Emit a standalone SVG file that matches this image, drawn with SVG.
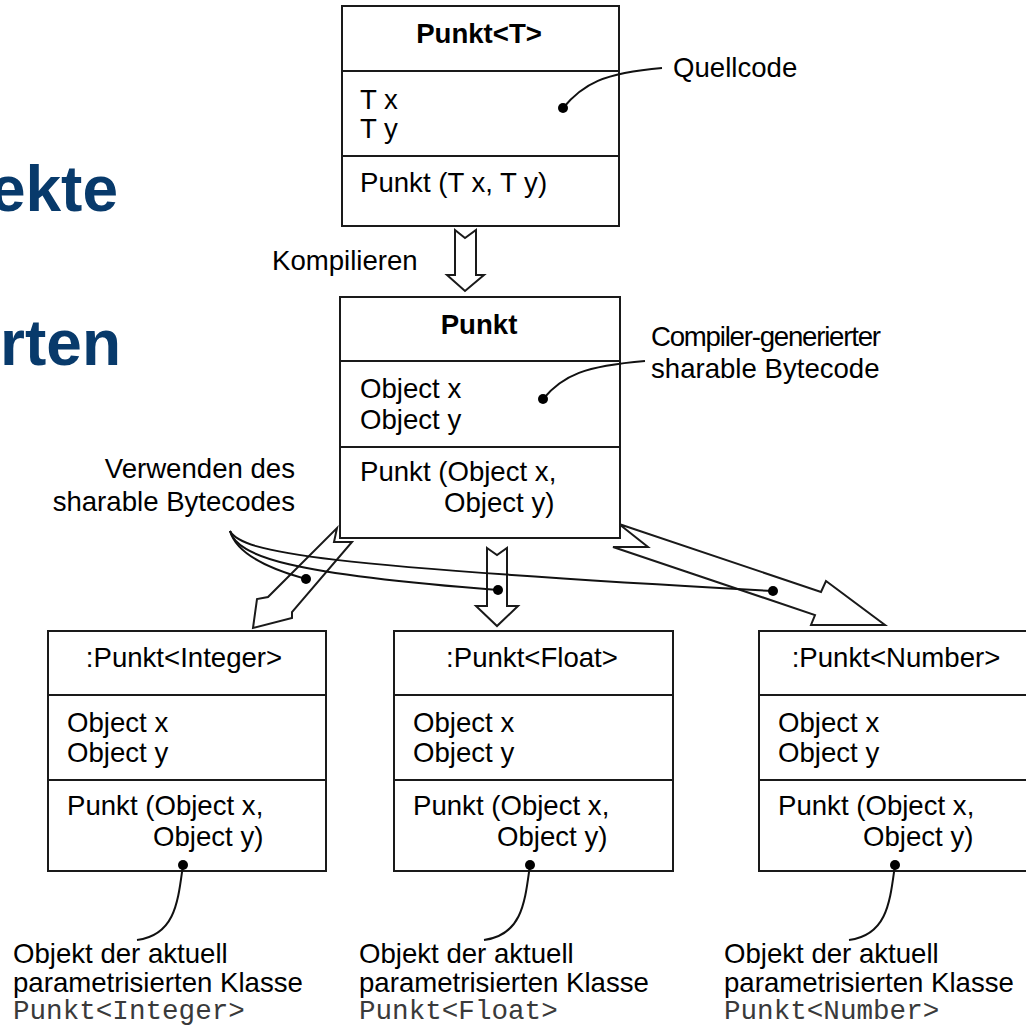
<svg xmlns="http://www.w3.org/2000/svg" width="1026" height="1026" viewBox="0 0 1026 1026">
  <style>
    .frame { fill: #fff; stroke: #1a1a1a; stroke-width: 2; }
    .sep { stroke: #1a1a1a; stroke-width: 2; }
    .t { font-family: "Liberation Sans", Arial, Helvetica, sans-serif; font-size: 27.6px; fill: #000; }
    .b { font-weight: bold; }
    .mid { text-anchor: middle; }
    .end { text-anchor: end; }
    .mono { font-family: "Liberation Mono", "Courier New", monospace; font-size: 27.6px; fill: #3a3a3a; }
    .head { font-family: "Liberation Sans", Arial, Helvetica, sans-serif; font-size: 64px; font-weight: bold; fill: #083a6b; text-anchor: end; }
    .arrow { fill: #fff; stroke: #1a1a1a; stroke-width: 2; stroke-linejoin: miter; }
    .leader { fill: none; stroke: #111; stroke-width: 2; }
    .dot { fill: #000; }
  </style>

  <rect width="1026" height="1026" fill="#fff"/>

  <!-- slide heading fragments at the left edge -->
  <g id="heading">
    <text class="head" x="118" y="211">ekte</text>
    <text class="head" x="121" y="365">rten</text>
  </g>

  <!-- hollow block arrows -->
  <g id="connectors">
    <polygon id="compile-arrow" class="arrow" points="455,230 465,238 476,230 476,275 484,275 465,291 447,275 455,275"/>
    <polygon id="to-integer" class="arrow" points="337,528 334,542 352,542 292,612 292,618 253,628 257,599 268,597"/>
    <polygon id="to-float" class="arrow" points="487,548 497,555 507,548 507,606 518,606 497,626 476,606 487,606"/>
    <polygon id="to-number" class="arrow" points="619,524 648,547 613,547 815,615 811,625 885,625 826,581 821,592"/>
    <text class="t" x="272" y="270">Kompilieren</text>
  </g>

  <!-- source class -->
  <g id="punkt-t">
    <rect class="frame" x="342" y="6" width="277" height="220"/>
    <line class="sep" x1="342" y1="71" x2="619" y2="71"/>
    <line class="sep" x1="342" y1="156" x2="619" y2="156"/>
    <text class="t b mid" x="479" y="43">Punkt&lt;T&gt;</text>
    <text class="t" x="360" y="109">T x</text>
    <text class="t" x="360" y="138">T y</text>
    <text class="t" x="360" y="192">Punkt (T x, T y)</text>
  </g>

  <!-- compiled raw class -->
  <g id="punkt">
    <rect class="frame" x="340" y="297" width="280" height="241"/>
    <line class="sep" x1="340" y1="361" x2="620" y2="361"/>
    <line class="sep" x1="340" y1="447" x2="620" y2="447"/>
    <text class="t b mid" x="479" y="334">Punkt</text>
    <text class="t" x="360" y="398">Object x</text>
    <text class="t" x="360" y="429">Object y</text>
    <text class="t" x="360" y="481">Punkt (Object x,</text>
    <text class="t" x="444" y="512">Object y)</text>
  </g>

  <!-- parameterised instances -->
  <g id="punkt-integer">
    <rect class="frame" x="48" y="631" width="278" height="240"/>
    <line class="sep" x1="48" y1="695" x2="326" y2="695"/>
    <line class="sep" x1="48" y1="780" x2="326" y2="780"/>
    <text class="t mid" x="184" y="667">:Punkt&lt;Integer&gt;</text>
    <text class="t" x="67" y="732">Object x</text>
    <text class="t" x="67" y="762">Object y</text>
    <text class="t" x="67" y="815">Punkt (Object x,</text>
    <text class="t" x="153" y="846">Object y)</text>
  </g>

  <g id="punkt-float">
    <rect class="frame" x="394" y="631" width="279" height="240"/>
    <line class="sep" x1="394" y1="695" x2="673" y2="695"/>
    <line class="sep" x1="394" y1="780" x2="673" y2="780"/>
    <text class="t mid" x="532" y="667">:Punkt&lt;Float&gt;</text>
    <text class="t" x="413" y="732">Object x</text>
    <text class="t" x="413" y="762">Object y</text>
    <text class="t" x="413" y="815">Punkt (Object x,</text>
    <text class="t" x="497" y="846">Object y)</text>
  </g>

  <g id="punkt-number">
    <rect class="frame" x="759" y="631" width="280" height="240"/>
    <line class="sep" x1="759" y1="695" x2="1039" y2="695"/>
    <line class="sep" x1="759" y1="780" x2="1039" y2="780"/>
    <text class="t mid" x="896" y="667">:Punkt&lt;Number&gt;</text>
    <text class="t" x="778" y="732">Object x</text>
    <text class="t" x="778" y="762">Object y</text>
    <text class="t" x="778" y="815">Punkt (Object x,</text>
    <text class="t" x="863" y="846">Object y)</text>
  </g>

  <!-- annotations with leader lines -->
  <g id="note-source">
    <path class="leader" d="M563,108 C583,84 603,73 662,68"/>
    <circle class="dot" cx="563" cy="108" r="5"/>
    <text class="t" x="673" y="77">Quellcode</text>
  </g>

  <g id="note-bytecode">
    <path class="leader" d="M543,399 C563,375 585,366 645,361"/>
    <circle class="dot" cx="543" cy="399" r="5"/>
    <text class="t" x="651" y="346" textLength="230" lengthAdjust="spacing">Compiler-generierter</text>
    <text class="t" x="651" y="378">sharable Bytecode</text>
  </g>

  <g id="note-shared">
    <text class="t end" x="295" y="478">Verwenden des</text>
    <text class="t end" x="295" y="511">sharable Bytecodes</text>
    <path class="leader" d="M230,531 C236,552 262,567 306,579"/>
    <path class="leader" d="M230,531 C238,557 290,574 498,590"/>
    <path class="leader" d="M230,531 C242,553 320,566 773,591"/>
    <circle class="dot" cx="306" cy="579" r="5"/>
    <circle class="dot" cx="498" cy="590" r="5"/>
    <circle class="dot" cx="773" cy="591" r="5"/>
  </g>

  <g id="note-integer">
    <path class="leader" d="M183,865 C178,900 176,935 137,940"/>
    <circle class="dot" cx="183" cy="865" r="5"/>
    <text class="t" x="13" y="963">Objekt der aktuell</text>
    <text class="t" x="13" y="992">parametrisierten Klasse</text>
    <text class="mono" x="13" y="1019">Punkt&lt;Integer&gt;</text>
  </g>

  <g id="note-float">
    <path class="leader" d="M530,865 C525,900 523,935 484,940"/>
    <circle class="dot" cx="530" cy="865" r="5"/>
    <text class="t" x="359" y="963">Objekt der aktuell</text>
    <text class="t" x="359" y="992">parametrisierten Klasse</text>
    <text class="mono" x="359" y="1019">Punkt&lt;Float&gt;</text>
  </g>

  <g id="note-number">
    <path class="leader" d="M895,865 C890,900 888,935 849,940"/>
    <circle class="dot" cx="895" cy="865" r="5"/>
    <text class="t" x="724" y="963">Objekt der aktuell</text>
    <text class="t" x="724" y="992">parametrisierten Klasse</text>
    <text class="mono" x="724" y="1019">Punkt&lt;Number&gt;</text>
  </g>
</svg>
